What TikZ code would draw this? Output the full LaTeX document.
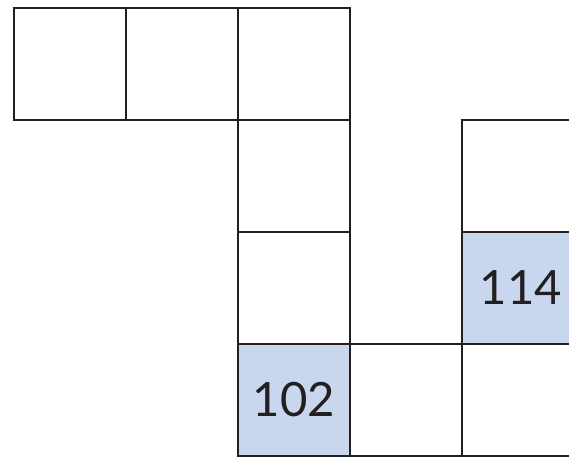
\documentclass[tikz,border=0pt]{standalone}
\usepackage{fontspec}
\setmainfont{Lato}
\definecolor{gridline}{HTML}{231F20}
\definecolor{cellblue}{HTML}{C8D6EE}
\begin{document}
\begin{tikzpicture}[x=0.017857cm,y=-0.017857cm,
  cell/.style={draw=gridline,line width=1.1pt,minimum size=2cm,inner sep=0pt,outer sep=0pt,font=\fontsize{24}{28}\selectfont,text=gridline},
  hl/.style={cell,fill=cellblue}]
\useasboundingbox (0,0) rectangle (569,457);
\clip (0,0) rectangle (569,457);
\node[cell] (a1) at (70,64) {};
\node[cell] (a2) at (182,64) {};
\node[cell] (a3) at (294,64) {};
\node[cell] (b3) at (294,176) {};
\node[cell] (c3) at (294,288) {};
\node[hl] (d3) at (294,400) {102};
\node[cell] (d4) at (406,400) {};
\node[cell] (b5) at (518,176) {};
\node[hl] (c5) at (518,288) {\hspace{3pt}114};
\node[cell] (d5) at (518,400) {};
\end{tikzpicture}
\end{document}
